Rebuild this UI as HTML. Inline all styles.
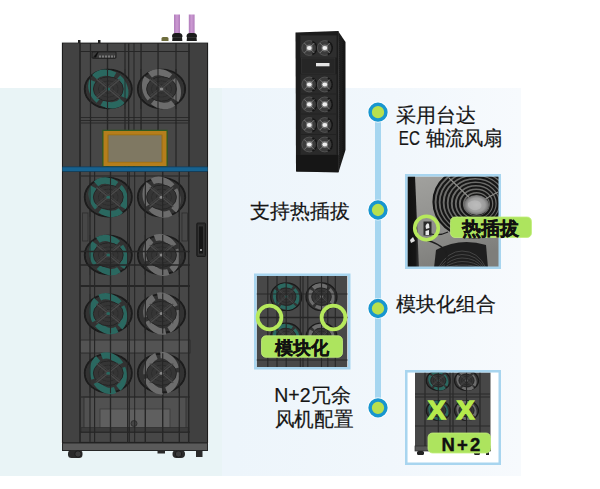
<!DOCTYPE html>
<html><head><meta charset="utf-8"><style>
html,body{margin:0;padding:0;background:#fff;width:600px;height:489px;overflow:hidden}
svg{display:block;font-family:"Liberation Sans",sans-serif}
</style></head><body>
<svg width="600" height="489" viewBox="0 0 600 489">
<defs><linearGradient id="bg" x1="0" y1="0" x2="1" y2="0"><stop offset="0" stop-color="#edf5fb"/><stop offset="0.45" stop-color="#edf5fb"/><stop offset="0.75" stop-color="#f1f7fc"/><stop offset="1" stop-color="#f7fafd"/></linearGradient></defs>
<rect x="0" y="88" width="521" height="388" fill="url(#bg)"/>
<rect x="0" y="88" width="222" height="388" fill="#e9f4f6"/>
<defs><filter id="soft" x="-5%" y="-5%" width="110%" height="110%"><feGaussianBlur stdDeviation="0.45"/></filter></defs>
<g filter="url(#soft)"><defs><linearGradient id="pp" x1="0" x2="1"><stop offset="0" stop-color="#b07cbb"/><stop offset="0.5" stop-color="#cc9ad2"/><stop offset="1" stop-color="#b07cbb"/></linearGradient></defs>
<rect x="174" y="14.5" width="6" height="19" fill="url(#pp)"/>
<rect x="188.8" y="14.5" width="5.8" height="19" fill="url(#pp)"/>
<path d="M172 36.5 Q172 33 175.5 33 L179 33 Q182.5 33 182.5 36.5 L182 37.5 L182.5 42.5 L172 42.5 L172.5 37.5 Z" fill="#1c1c1c"/><rect x="173" y="37" width="8.5" height="1" fill="#333"/>
<path d="M186.5 36.5 Q186.5 33 190 33 L193.5 33 Q197 33 197 36.5 L196.5 37.5 L197 42.5 L186.5 42.5 L187 37.5 Z" fill="#1c1c1c"/><rect x="187.5" y="37" width="8.5" height="1" fill="#333"/>
<rect x="161.5" y="37" width="7" height="6" rx="1.5" fill="#6e6d3e"/>
<rect x="61" y="41" width="148" height="403" fill="#fbfdfd"/>
<rect x="78" y="40" width="2.5" height="3" fill="#222"/><rect x="98" y="40" width="2.5" height="3" fill="#222"/>
<rect x="62.5" y="43.2" width="145" height="399.3" fill="#464646" stroke="#1e1e1e" stroke-width="1.2"/>
<rect x="190" y="43.5" width="17" height="399" fill="#404040"/>
<rect x="63.5" y="43.5" width="16" height="399" fill="#434343"/>
<rect x="84" y="397" width="102" height="34" fill="#515151" stroke="#2e2e2e" stroke-width="0.8"/>
<rect x="100" y="409" width="70" height="19" fill="#5e5e5e" stroke="#3a3a3a" stroke-width="0.8"/>
<circle cx="134" cy="423.5" r="3" fill="#444" stroke="#2a2a2a" stroke-width="0.8"/>
<rect x="81" y="427.5" width="108" height="5" fill="#3a3a3a" stroke="#2a2a2a" stroke-width="0.6"/>
<rect x="62.5" y="443" width="145" height="7.5" fill="#5a5a5a" stroke="#262626" stroke-width="1"/>
<rect x="68" y="450" width="14.5" height="8" rx="3.5" fill="#2a2a2a"/>
<circle cx="78" cy="454" r="3.2" fill="#3c3c3c" stroke="#1e1e1e" stroke-width="1"/>
<rect x="172.5" y="450" width="12.5" height="8" rx="4" fill="#2a2a2a"/>
<circle cx="178.5" cy="454" r="3.2" fill="#3c3c3c" stroke="#1e1e1e" stroke-width="1"/>
<rect x="196" y="450" width="6.5" height="7" fill="#2a2a2a"/>
<rect x="157.5" y="450" width="7.5" height="3.5" fill="#2a2a2a"/>
<rect x="80" y="340" width="110" height="13" fill="#535353" stroke="#2c2c2c" stroke-width="0.9"/>
<line x1="80" y1="43" x2="80" y2="167" stroke="#252525" stroke-width="1.5"/>
<line x1="90.5" y1="43" x2="90.5" y2="167" stroke="#252525" stroke-width="1.2"/>
<line x1="107.5" y1="43" x2="107.5" y2="167" stroke="#252525" stroke-width="1.3"/>
<line x1="125" y1="43" x2="125" y2="167" stroke="#252525" stroke-width="1.1"/>
<line x1="128.7" y1="43" x2="128.7" y2="167" stroke="#252525" stroke-width="1.3"/>
<line x1="134" y1="43" x2="134" y2="167" stroke="#252525" stroke-width="1.0"/>
<line x1="141" y1="43" x2="141" y2="167" stroke="#252525" stroke-width="1.3"/>
<line x1="158" y1="43" x2="158" y2="167" stroke="#252525" stroke-width="1.3"/>
<line x1="176" y1="43" x2="176" y2="167" stroke="#252525" stroke-width="1.2"/>
<line x1="189" y1="43" x2="189" y2="167" stroke="#252525" stroke-width="1.5"/>
<line x1="80" y1="171" x2="80" y2="443" stroke="#252525" stroke-width="1.5"/>
<line x1="90" y1="171" x2="90" y2="443" stroke="#252525" stroke-width="1.1"/>
<line x1="110.5" y1="171" x2="110.5" y2="443" stroke="#252525" stroke-width="1.3"/>
<line x1="127.5" y1="171" x2="127.5" y2="443" stroke="#252525" stroke-width="1.0"/>
<line x1="129.2" y1="171" x2="129.2" y2="443" stroke="#252525" stroke-width="1.3"/>
<line x1="134.7" y1="171" x2="134.7" y2="443" stroke="#252525" stroke-width="1.0"/>
<line x1="145.3" y1="171" x2="145.3" y2="443" stroke="#252525" stroke-width="1.4"/>
<line x1="162.7" y1="171" x2="162.7" y2="443" stroke="#252525" stroke-width="1.4"/>
<line x1="179.3" y1="171" x2="179.3" y2="443" stroke="#252525" stroke-width="1.2"/>
<line x1="188.7" y1="171" x2="188.7" y2="443" stroke="#252525" stroke-width="1.5"/>
<line x1="94.6" y1="171" x2="94.6" y2="443" stroke="#252525" stroke-width="1.1"/>
<line x1="80" y1="51.5" x2="190" y2="51.5" stroke="#262626" stroke-width="1"/>
<line x1="80" y1="117.5" x2="190" y2="117.5" stroke="#262626" stroke-width="0.9"/>
<line x1="80" y1="120.5" x2="190" y2="120.5" stroke="#262626" stroke-width="0.9"/>
<line x1="80" y1="123" x2="190" y2="123" stroke="#262626" stroke-width="0.9"/>
<line x1="80" y1="176" x2="190" y2="176" stroke="#262626" stroke-width="1.2"/>
<line x1="80" y1="286" x2="190" y2="286" stroke="#262626" stroke-width="1.8"/>
<line x1="80" y1="397" x2="190" y2="397" stroke="#262626" stroke-width="1"/>
<line x1="80" y1="432" x2="190" y2="432" stroke="#262626" stroke-width="1"/>
<rect x="92" y="51.8" width="24" height="6.5" rx="1" fill="#3c3c3c" stroke="#1c1c1c" stroke-width="0.9"/>
<path d="M93 57.5 L97.5 52 L98.5 52 L96 57.5 Z" fill="#111"/>
<path d="M99 56.5 h16" stroke="#7a7a7a" stroke-width="2" stroke-dasharray="2 1"/>
<ellipse cx="108.3" cy="89" rx="23.6" ry="19.3" fill="#333" stroke="#1a1a1a" stroke-width="1.77"/>
<ellipse cx="108.3" cy="89" rx="18.2" ry="14.9" fill="none" stroke="#2b6860" stroke-width="6.4" stroke-dasharray="21.8 4.2" transform="rotate(40 108.3 89)"/>
<ellipse cx="108.3" cy="89" rx="14.9" ry="12.2" fill="#363636" stroke="#262626" stroke-width="1"/>
<ellipse cx="108.3" cy="89" rx="9.9" ry="8.1" fill="none" stroke="#2a2a2a" stroke-width="0.8"/>
<ellipse cx="108.3" cy="89" rx="5.2" ry="4.2" fill="none" stroke="#2a2a2a" stroke-width="0.8"/>
<path d="M96.5 79.3L120.1 98.7M120.1 79.3L96.5 98.7" stroke="#4a4a4a" stroke-width="1.18"/>
<path d="M98.9 78.9L120.7 96.7M117.7 78.9L95.9 96.7" stroke="#424242" stroke-width="0.94"/>
<ellipse cx="108.3" cy="89" rx="1.9" ry="1.5" fill="#2b6860"/>
<ellipse cx="161.5" cy="89" rx="23.7" ry="19.3" fill="#333" stroke="#1a1a1a" stroke-width="1.78"/>
<ellipse cx="161.5" cy="89" rx="18.2" ry="14.9" fill="none" stroke="#6c6c6c" stroke-width="6.4" stroke-dasharray="21.8 4.2" transform="rotate(50 161.5 89)"/>
<ellipse cx="161.5" cy="89" rx="14.9" ry="12.2" fill="#363636" stroke="#262626" stroke-width="1"/>
<ellipse cx="161.5" cy="89" rx="10.0" ry="8.1" fill="none" stroke="#2a2a2a" stroke-width="0.8"/>
<ellipse cx="161.5" cy="89" rx="5.2" ry="4.2" fill="none" stroke="#2a2a2a" stroke-width="0.8"/>
<path d="M149.7 79.3L173.3 98.7M173.3 79.3L149.7 98.7" stroke="#4a4a4a" stroke-width="1.19"/>
<path d="M152.0 78.9L173.9 96.7M171.0 78.9L149.1 96.7" stroke="#424242" stroke-width="0.95"/>
<ellipse cx="161.5" cy="89" rx="1.9" ry="1.5" fill="#888"/>
<ellipse cx="108.3" cy="197.2" rx="23.6" ry="19.3" fill="#333" stroke="#1a1a1a" stroke-width="1.77"/>
<ellipse cx="108.3" cy="197.2" rx="18.2" ry="14.9" fill="none" stroke="#2b6860" stroke-width="6.4" stroke-dasharray="21.8 4.2" transform="rotate(47 108.3 197.2)"/>
<ellipse cx="108.3" cy="197.2" rx="14.9" ry="12.2" fill="#363636" stroke="#262626" stroke-width="1"/>
<ellipse cx="108.3" cy="197.2" rx="9.9" ry="8.1" fill="none" stroke="#2a2a2a" stroke-width="0.8"/>
<ellipse cx="108.3" cy="197.2" rx="5.2" ry="4.2" fill="none" stroke="#2a2a2a" stroke-width="0.8"/>
<path d="M96.5 187.5L120.1 206.8M120.1 187.5L96.5 206.8" stroke="#4a4a4a" stroke-width="1.18"/>
<path d="M98.9 187.1L120.7 204.9M117.7 187.1L95.9 204.9" stroke="#424242" stroke-width="0.94"/>
<ellipse cx="108.3" cy="197.2" rx="1.9" ry="1.5" fill="#2b6860"/>
<ellipse cx="161.5" cy="197.2" rx="23.7" ry="19.3" fill="#333" stroke="#1a1a1a" stroke-width="1.78"/>
<ellipse cx="161.5" cy="197.2" rx="18.2" ry="14.9" fill="none" stroke="#6c6c6c" stroke-width="6.4" stroke-dasharray="21.8 4.2" transform="rotate(59 161.5 197.2)"/>
<ellipse cx="161.5" cy="197.2" rx="14.9" ry="12.2" fill="#363636" stroke="#262626" stroke-width="1"/>
<ellipse cx="161.5" cy="197.2" rx="10.0" ry="8.1" fill="none" stroke="#2a2a2a" stroke-width="0.8"/>
<ellipse cx="161.5" cy="197.2" rx="5.2" ry="4.2" fill="none" stroke="#2a2a2a" stroke-width="0.8"/>
<path d="M149.7 187.5L173.3 206.8M173.3 187.5L149.7 206.8" stroke="#4a4a4a" stroke-width="1.19"/>
<path d="M152.0 187.1L173.9 204.9M171.0 187.1L149.1 204.9" stroke="#424242" stroke-width="0.95"/>
<ellipse cx="161.5" cy="197.2" rx="1.9" ry="1.5" fill="#888"/>
<ellipse cx="108.3" cy="255" rx="23.6" ry="19.3" fill="#333" stroke="#1a1a1a" stroke-width="1.77"/>
<ellipse cx="108.3" cy="255" rx="18.2" ry="14.9" fill="none" stroke="#2b6860" stroke-width="6.4" stroke-dasharray="21.8 4.2" transform="rotate(54 108.3 255)"/>
<ellipse cx="108.3" cy="255" rx="14.9" ry="12.2" fill="#363636" stroke="#262626" stroke-width="1"/>
<ellipse cx="108.3" cy="255" rx="9.9" ry="8.1" fill="none" stroke="#2a2a2a" stroke-width="0.8"/>
<ellipse cx="108.3" cy="255" rx="5.2" ry="4.2" fill="none" stroke="#2a2a2a" stroke-width="0.8"/>
<path d="M96.5 245.3L120.1 264.6M120.1 245.3L96.5 264.6" stroke="#4a4a4a" stroke-width="1.18"/>
<path d="M98.9 244.9L120.7 262.7M117.7 244.9L95.9 262.7" stroke="#424242" stroke-width="0.94"/>
<ellipse cx="108.3" cy="255" rx="1.9" ry="1.5" fill="#2b6860"/>
<ellipse cx="161.5" cy="255" rx="23.7" ry="19.3" fill="#333" stroke="#1a1a1a" stroke-width="1.78"/>
<ellipse cx="161.5" cy="255" rx="18.2" ry="14.9" fill="none" stroke="#6c6c6c" stroke-width="6.4" stroke-dasharray="21.8 4.2" transform="rotate(68 161.5 255)"/>
<ellipse cx="161.5" cy="255" rx="14.9" ry="12.2" fill="#363636" stroke="#262626" stroke-width="1"/>
<ellipse cx="161.5" cy="255" rx="10.0" ry="8.1" fill="none" stroke="#2a2a2a" stroke-width="0.8"/>
<ellipse cx="161.5" cy="255" rx="5.2" ry="4.2" fill="none" stroke="#2a2a2a" stroke-width="0.8"/>
<path d="M149.7 245.3L173.3 264.6M173.3 245.3L149.7 264.6" stroke="#4a4a4a" stroke-width="1.19"/>
<path d="M152.0 244.9L173.9 262.7M171.0 244.9L149.1 262.7" stroke="#424242" stroke-width="0.95"/>
<ellipse cx="161.5" cy="255" rx="1.9" ry="1.5" fill="#888"/>
<ellipse cx="108.3" cy="313.6" rx="23.6" ry="19.3" fill="#333" stroke="#1a1a1a" stroke-width="1.77"/>
<ellipse cx="108.3" cy="313.6" rx="18.2" ry="14.9" fill="none" stroke="#2b6860" stroke-width="6.4" stroke-dasharray="21.8 4.2" transform="rotate(61 108.3 313.6)"/>
<ellipse cx="108.3" cy="313.6" rx="14.9" ry="12.2" fill="#363636" stroke="#262626" stroke-width="1"/>
<ellipse cx="108.3" cy="313.6" rx="9.9" ry="8.1" fill="none" stroke="#2a2a2a" stroke-width="0.8"/>
<ellipse cx="108.3" cy="313.6" rx="5.2" ry="4.2" fill="none" stroke="#2a2a2a" stroke-width="0.8"/>
<path d="M96.5 304.0L120.1 323.2M120.1 304.0L96.5 323.2" stroke="#4a4a4a" stroke-width="1.18"/>
<path d="M98.9 303.5L120.7 321.3M117.7 303.5L95.9 321.3" stroke="#424242" stroke-width="0.94"/>
<ellipse cx="108.3" cy="313.6" rx="1.9" ry="1.5" fill="#2b6860"/>
<ellipse cx="161.5" cy="313.6" rx="23.7" ry="19.3" fill="#333" stroke="#1a1a1a" stroke-width="1.78"/>
<ellipse cx="161.5" cy="313.6" rx="18.2" ry="14.9" fill="none" stroke="#6c6c6c" stroke-width="6.4" stroke-dasharray="21.8 4.2" transform="rotate(77 161.5 313.6)"/>
<ellipse cx="161.5" cy="313.6" rx="14.9" ry="12.2" fill="#363636" stroke="#262626" stroke-width="1"/>
<ellipse cx="161.5" cy="313.6" rx="10.0" ry="8.1" fill="none" stroke="#2a2a2a" stroke-width="0.8"/>
<ellipse cx="161.5" cy="313.6" rx="5.2" ry="4.2" fill="none" stroke="#2a2a2a" stroke-width="0.8"/>
<path d="M149.7 304.0L173.3 323.2M173.3 304.0L149.7 323.2" stroke="#4a4a4a" stroke-width="1.19"/>
<path d="M152.0 303.5L173.9 321.3M171.0 303.5L149.1 321.3" stroke="#424242" stroke-width="0.95"/>
<ellipse cx="161.5" cy="313.6" rx="1.9" ry="1.5" fill="#888"/>
<ellipse cx="108.3" cy="373.2" rx="23.6" ry="19.3" fill="#333" stroke="#1a1a1a" stroke-width="1.77"/>
<ellipse cx="108.3" cy="373.2" rx="18.2" ry="14.9" fill="none" stroke="#2b6860" stroke-width="6.4" stroke-dasharray="21.8 4.2" transform="rotate(68 108.3 373.2)"/>
<ellipse cx="108.3" cy="373.2" rx="14.9" ry="12.2" fill="#363636" stroke="#262626" stroke-width="1"/>
<ellipse cx="108.3" cy="373.2" rx="9.9" ry="8.1" fill="none" stroke="#2a2a2a" stroke-width="0.8"/>
<ellipse cx="108.3" cy="373.2" rx="5.2" ry="4.2" fill="none" stroke="#2a2a2a" stroke-width="0.8"/>
<path d="M96.5 363.6L120.1 382.8M120.1 363.6L96.5 382.8" stroke="#4a4a4a" stroke-width="1.18"/>
<path d="M98.9 363.1L120.7 380.9M117.7 363.1L95.9 380.9" stroke="#424242" stroke-width="0.94"/>
<ellipse cx="108.3" cy="373.2" rx="1.9" ry="1.5" fill="#2b6860"/>
<ellipse cx="161.5" cy="373.2" rx="23.7" ry="19.3" fill="#333" stroke="#1a1a1a" stroke-width="1.78"/>
<ellipse cx="161.5" cy="373.2" rx="18.2" ry="14.9" fill="none" stroke="#6c6c6c" stroke-width="6.4" stroke-dasharray="21.8 4.2" transform="rotate(86 161.5 373.2)"/>
<ellipse cx="161.5" cy="373.2" rx="14.9" ry="12.2" fill="#363636" stroke="#262626" stroke-width="1"/>
<ellipse cx="161.5" cy="373.2" rx="10.0" ry="8.1" fill="none" stroke="#2a2a2a" stroke-width="0.8"/>
<ellipse cx="161.5" cy="373.2" rx="5.2" ry="4.2" fill="none" stroke="#2a2a2a" stroke-width="0.8"/>
<path d="M149.7 363.6L173.3 382.8M173.3 363.6L149.7 382.8" stroke="#4a4a4a" stroke-width="1.19"/>
<path d="M152.0 363.1L173.9 380.9M171.0 363.1L149.1 380.9" stroke="#424242" stroke-width="0.95"/>
<ellipse cx="161.5" cy="373.2" rx="1.9" ry="1.5" fill="#888"/>
<line x1="90.5" y1="69" x2="90.5" y2="109" stroke="#262626" stroke-width="1.02"/>
<line x1="107.5" y1="69" x2="107.5" y2="109" stroke="#262626" stroke-width="1.10"/>
<line x1="125" y1="69" x2="125" y2="109" stroke="#262626" stroke-width="0.94"/>
<line x1="141" y1="69" x2="141" y2="109" stroke="#262626" stroke-width="1.10"/>
<line x1="158" y1="69" x2="158" y2="109" stroke="#262626" stroke-width="1.10"/>
<line x1="176" y1="69" x2="176" y2="109" stroke="#262626" stroke-width="1.02"/>
<line x1="90" y1="177.2" x2="90" y2="217.2" stroke="#262626" stroke-width="0.94"/>
<line x1="110.5" y1="177.2" x2="110.5" y2="217.2" stroke="#262626" stroke-width="1.10"/>
<line x1="127.5" y1="177.2" x2="127.5" y2="217.2" stroke="#262626" stroke-width="0.85"/>
<line x1="145.3" y1="177.2" x2="145.3" y2="217.2" stroke="#262626" stroke-width="1.19"/>
<line x1="162.7" y1="177.2" x2="162.7" y2="217.2" stroke="#262626" stroke-width="1.19"/>
<line x1="179.3" y1="177.2" x2="179.3" y2="217.2" stroke="#262626" stroke-width="1.02"/>
<line x1="90" y1="235" x2="90" y2="275" stroke="#262626" stroke-width="0.94"/>
<line x1="110.5" y1="235" x2="110.5" y2="275" stroke="#262626" stroke-width="1.10"/>
<line x1="127.5" y1="235" x2="127.5" y2="275" stroke="#262626" stroke-width="0.85"/>
<line x1="145.3" y1="235" x2="145.3" y2="275" stroke="#262626" stroke-width="1.19"/>
<line x1="162.7" y1="235" x2="162.7" y2="275" stroke="#262626" stroke-width="1.19"/>
<line x1="179.3" y1="235" x2="179.3" y2="275" stroke="#262626" stroke-width="1.02"/>
<line x1="90" y1="293.6" x2="90" y2="333.6" stroke="#262626" stroke-width="0.94"/>
<line x1="110.5" y1="293.6" x2="110.5" y2="333.6" stroke="#262626" stroke-width="1.10"/>
<line x1="127.5" y1="293.6" x2="127.5" y2="333.6" stroke="#262626" stroke-width="0.85"/>
<line x1="145.3" y1="293.6" x2="145.3" y2="333.6" stroke="#262626" stroke-width="1.19"/>
<line x1="162.7" y1="293.6" x2="162.7" y2="333.6" stroke="#262626" stroke-width="1.19"/>
<line x1="179.3" y1="293.6" x2="179.3" y2="333.6" stroke="#262626" stroke-width="1.02"/>
<line x1="90" y1="353.2" x2="90" y2="393.2" stroke="#262626" stroke-width="0.94"/>
<line x1="110.5" y1="353.2" x2="110.5" y2="393.2" stroke="#262626" stroke-width="1.10"/>
<line x1="127.5" y1="353.2" x2="127.5" y2="393.2" stroke="#262626" stroke-width="0.85"/>
<line x1="145.3" y1="353.2" x2="145.3" y2="393.2" stroke="#262626" stroke-width="1.19"/>
<line x1="162.7" y1="353.2" x2="162.7" y2="393.2" stroke="#262626" stroke-width="1.19"/>
<line x1="179.3" y1="353.2" x2="179.3" y2="393.2" stroke="#262626" stroke-width="1.02"/>
<line x1="80" y1="251.5" x2="190" y2="251.5" stroke="#262626" stroke-width="1.3"/>
<line x1="80" y1="265" x2="190" y2="265" stroke="#262626" stroke-width="1.3"/>
<rect x="102.3" y="129.8" width="65.4" height="37" fill="#2f5c22"/>
<rect x="103.5" y="131" width="63" height="35" fill="#b57e1c"/><rect x="107.5" y="134.5" width="55" height="28" fill="#9a6c14"/>
<rect x="108.5" y="135.3" width="53" height="26.5" fill="#7f7862"/>
<rect x="62.5" y="166.5" width="145" height="5.3" fill="#0f3f60"/><rect x="62.5" y="167.3" width="145" height="3.7" fill="#16628f"/>
<rect x="82.5" y="213" width="5.5" height="28" fill="none" stroke="#2e2e2e" stroke-width="0.8"/>
<rect x="182" y="213" width="5.5" height="28" fill="none" stroke="#2e2e2e" stroke-width="0.8"/>
<rect x="196.8" y="223" width="8.8" height="33.5" rx="1" fill="#2a2a2a" stroke="#1a1a1a" stroke-width="1"/>
<rect x="198.6" y="226" width="4.8" height="28" fill="#141414" stroke="#3c3c3c" stroke-width="0.7"/>
<circle cx="201" cy="250" r="1" fill="#bbb"/></g>
<g filter="url(#soft)"><defs><linearGradient id="sg" x1="0" y1="0" x2="1" y2="0"><stop offset="0" stop-color="#222"/><stop offset="1" stop-color="#141414"/></linearGradient></defs>
<path d="M338 31 L345.5 42 L345.5 150 L338.5 172.5 Z" fill="url(#sg)"/>
<path d="M295.5 32.5 L338 31 L338.5 172.5 L296 171.5 Z" fill="#1b1b1b"/>
<line x1="338.3" y1="31" x2="338.5" y2="172" stroke="#333" stroke-width="0.8"/>
<rect x="300.5" y="35.5" width="36" height="22" fill="#2e2e2e" stroke="#262626" stroke-width="0.8"/>
<rect x="301.5" y="58" width="33.5" height="15.5" fill="#262626" stroke="#353535" stroke-width="0.7"/>
<rect x="316" y="63" width="13.5" height="3.3" fill="#e4e4e4"/>
<rect x="300.5" y="74" width="36" height="20" fill="#2b2b2b" stroke="#232323" stroke-width="0.7"/>
<rect x="300.5" y="94" width="36" height="20" fill="#2a2a2a" stroke="#232323" stroke-width="0.7"/>
<rect x="300.5" y="114" width="36" height="20.5" fill="#2a2a2a" stroke="#232323" stroke-width="0.7"/>
<rect x="300.5" y="134.5" width="36" height="20.5" fill="#2a2a2a" stroke="#232323" stroke-width="0.7"/>
<rect x="296.5" y="155" width="42" height="16.5" fill="#151515" />
<circle cx="309.3" cy="48" r="7.4" fill="#3a3a3a" stroke="#555" stroke-width="0.9"/>
<path d="M312.3 41.5 A7 7 0 0 1 312.3 54.5" fill="none" stroke="#151515" stroke-width="1.6"/>
<path d="M304.3 43L314.3 53M314.3 43L304.3 53" stroke="#858585" stroke-width="0.8"/>
<circle cx="309.3" cy="48" r="3.4" fill="#a0a0a0" opacity="0.55"/>
<ellipse cx="309.3" cy="48" rx="2.4" ry="2.1" fill="#f0f0f0"/>
<circle cx="324.8" cy="48" r="7.4" fill="#3a3a3a" stroke="#555" stroke-width="0.9"/>
<path d="M327.8 41.5 A7 7 0 0 1 327.8 54.5" fill="none" stroke="#151515" stroke-width="1.6"/>
<path d="M319.8 43L329.8 53M329.8 43L319.8 53" stroke="#858585" stroke-width="0.8"/>
<circle cx="324.8" cy="48" r="3.4" fill="#a0a0a0" opacity="0.55"/>
<ellipse cx="324.8" cy="48" rx="2.4" ry="2.1" fill="#f0f0f0"/>
<circle cx="309.3" cy="84.5" r="7.4" fill="#3a3a3a" stroke="#555" stroke-width="0.9"/>
<path d="M312.3 78.0 A7 7 0 0 1 312.3 91.0" fill="none" stroke="#151515" stroke-width="1.6"/>
<path d="M304.3 79.5L314.3 89.5M314.3 79.5L304.3 89.5" stroke="#858585" stroke-width="0.8"/>
<circle cx="309.3" cy="84.5" r="3.4" fill="#a0a0a0" opacity="0.55"/>
<ellipse cx="309.3" cy="84.5" rx="2.4" ry="2.1" fill="#f0f0f0"/>
<circle cx="324.8" cy="84.5" r="7.4" fill="#3a3a3a" stroke="#555" stroke-width="0.9"/>
<path d="M327.8 78.0 A7 7 0 0 1 327.8 91.0" fill="none" stroke="#151515" stroke-width="1.6"/>
<path d="M319.8 79.5L329.8 89.5M329.8 79.5L319.8 89.5" stroke="#858585" stroke-width="0.8"/>
<circle cx="324.8" cy="84.5" r="3.4" fill="#a0a0a0" opacity="0.55"/>
<ellipse cx="324.8" cy="84.5" rx="2.4" ry="2.1" fill="#f0f0f0"/>
<circle cx="309.3" cy="104.4" r="7.4" fill="#3a3a3a" stroke="#555" stroke-width="0.9"/>
<path d="M312.3 97.9 A7 7 0 0 1 312.3 110.9" fill="none" stroke="#151515" stroke-width="1.6"/>
<path d="M304.3 99.4L314.3 109.4M314.3 99.4L304.3 109.4" stroke="#858585" stroke-width="0.8"/>
<circle cx="309.3" cy="104.4" r="3.4" fill="#a0a0a0" opacity="0.55"/>
<ellipse cx="309.3" cy="104.4" rx="2.4" ry="2.1" fill="#f0f0f0"/>
<circle cx="324.8" cy="104.4" r="7.4" fill="#3a3a3a" stroke="#555" stroke-width="0.9"/>
<path d="M327.8 97.9 A7 7 0 0 1 327.8 110.9" fill="none" stroke="#151515" stroke-width="1.6"/>
<path d="M319.8 99.4L329.8 109.4M329.8 99.4L319.8 109.4" stroke="#858585" stroke-width="0.8"/>
<circle cx="324.8" cy="104.4" r="3.4" fill="#a0a0a0" opacity="0.55"/>
<ellipse cx="324.8" cy="104.4" rx="2.4" ry="2.1" fill="#f0f0f0"/>
<circle cx="309.3" cy="125" r="7.4" fill="#3a3a3a" stroke="#555" stroke-width="0.9"/>
<path d="M312.3 118.5 A7 7 0 0 1 312.3 131.5" fill="none" stroke="#151515" stroke-width="1.6"/>
<path d="M304.3 120L314.3 130M314.3 120L304.3 130" stroke="#858585" stroke-width="0.8"/>
<circle cx="309.3" cy="125" r="3.4" fill="#a0a0a0" opacity="0.55"/>
<ellipse cx="309.3" cy="125" rx="2.4" ry="2.1" fill="#f0f0f0"/>
<circle cx="324.8" cy="125" r="7.4" fill="#3a3a3a" stroke="#555" stroke-width="0.9"/>
<path d="M327.8 118.5 A7 7 0 0 1 327.8 131.5" fill="none" stroke="#151515" stroke-width="1.6"/>
<path d="M319.8 120L329.8 130M329.8 120L319.8 130" stroke="#858585" stroke-width="0.8"/>
<circle cx="324.8" cy="125" r="3.4" fill="#a0a0a0" opacity="0.55"/>
<ellipse cx="324.8" cy="125" rx="2.4" ry="2.1" fill="#f0f0f0"/>
<circle cx="309.3" cy="144.5" r="7.4" fill="#3a3a3a" stroke="#555" stroke-width="0.9"/>
<path d="M312.3 138.0 A7 7 0 0 1 312.3 151.0" fill="none" stroke="#151515" stroke-width="1.6"/>
<path d="M304.3 139.5L314.3 149.5M314.3 139.5L304.3 149.5" stroke="#858585" stroke-width="0.8"/>
<circle cx="309.3" cy="144.5" r="3.4" fill="#a0a0a0" opacity="0.55"/>
<ellipse cx="309.3" cy="144.5" rx="2.4" ry="2.1" fill="#f0f0f0"/>
<circle cx="324.8" cy="144.5" r="7.4" fill="#3a3a3a" stroke="#555" stroke-width="0.9"/>
<path d="M327.8 138.0 A7 7 0 0 1 327.8 151.0" fill="none" stroke="#151515" stroke-width="1.6"/>
<path d="M319.8 139.5L329.8 149.5M329.8 139.5L319.8 149.5" stroke="#858585" stroke-width="0.8"/>
<circle cx="324.8" cy="144.5" r="3.4" fill="#a0a0a0" opacity="0.55"/>
<ellipse cx="324.8" cy="144.5" rx="2.4" ry="2.1" fill="#f0f0f0"/></g>
<rect x="375" y="112" width="6" height="296" fill="#a6d6f0"/>
<circle cx="378" cy="112.2" r="10.6" fill="#fff" opacity="0.75"/><circle cx="378" cy="112.2" r="7.9" fill="#b8e04e" stroke="#1896cf" stroke-width="3.5"/>
<circle cx="378" cy="210" r="10.6" fill="#fff" opacity="0.75"/><circle cx="378" cy="210" r="7.9" fill="#b8e04e" stroke="#1896cf" stroke-width="3.5"/>
<circle cx="378" cy="308.5" r="10.6" fill="#fff" opacity="0.75"/><circle cx="378" cy="308.5" r="7.9" fill="#b8e04e" stroke="#1896cf" stroke-width="3.5"/>
<circle cx="378" cy="407.8" r="10.6" fill="#fff" opacity="0.75"/><circle cx="378" cy="407.8" r="7.9" fill="#b8e04e" stroke="#1896cf" stroke-width="3.5"/>
<text x="396" y="122" font-size="19.5" fill="#151515" stroke="#151515" stroke-width="0.2">采用台达</text>
<text x="398.8" y="144.5" font-size="19.5" fill="#151515" stroke="#151515" stroke-width="0.2" textLength="21" lengthAdjust="spacingAndGlyphs">EC</text>
<text x="425.5" y="144.5" font-size="19.5" fill="#151515" stroke="#151515" stroke-width="0.2" textLength="77" lengthAdjust="spacingAndGlyphs">轴流风扇</text>
<text x="250.3" y="217.6" font-size="19.5" fill="#151515" stroke="#151515" stroke-width="0.2">支持热插拔</text>
<text x="396.3" y="310.6" font-size="19.5" fill="#151515" stroke="#151515" stroke-width="0.2">模块化组合</text>
<text x="274.2" y="401.5" font-size="19.5" fill="#151515" stroke="#151515" stroke-width="0.2">N+2冗余</text>
<text x="274.8" y="425.5" font-size="19.5" fill="#151515" stroke="#151515" stroke-width="0.2" textLength="78.5" lengthAdjust="spacingAndGlyphs">风机配置</text>
<defs><clipPath id="c1"><rect x="407.5" y="176.5" width="92" height="91"/></clipPath><linearGradient id="g1" x1="0" y1="0" x2="0.3" y2="1"><stop offset="0" stop-color="#a2a29f"/><stop offset="0.6" stop-color="#8f8f8c"/><stop offset="1" stop-color="#7e7e7b"/></linearGradient><radialGradient id="hubg"><stop offset="0" stop-color="#b4b4b4"/><stop offset="0.7" stop-color="#9c9c9c"/><stop offset="1" stop-color="#6a6a6a"/></radialGradient><linearGradient id="bs" x1="0" x2="1"><stop offset="0" stop-color="#101010"/><stop offset="0.7" stop-color="#161616"/><stop offset="1" stop-color="#3a3a3a"/></linearGradient></defs>
<g clip-path="url(#c1)">
<rect x="407" y="176" width="93" height="92" fill="url(#g1)"/>
<path d="M407 176 L415 176 L419 268 L407 268 Z" fill="url(#bs)"/>
<ellipse cx="474" cy="202" rx="41" ry="36" fill="#6c6c6a"/>
<ellipse cx="474.0" cy="202.0" rx="40.5" ry="35.5" fill="none" stroke="#161616" stroke-width="2.2"/>
<ellipse cx="474.4" cy="202.3" rx="36.8" ry="32.3" fill="none" stroke="#161616" stroke-width="2.2"/>
<ellipse cx="474.7" cy="202.6" rx="33.1" ry="29.1" fill="none" stroke="#161616" stroke-width="2.2"/>
<ellipse cx="475.1" cy="202.9" rx="29.4" ry="25.9" fill="none" stroke="#161616" stroke-width="2.2"/>
<ellipse cx="475.4" cy="203.2" rx="25.7" ry="22.7" fill="none" stroke="#161616" stroke-width="2.2"/>
<ellipse cx="475.8" cy="203.5" rx="22.0" ry="19.5" fill="none" stroke="#161616" stroke-width="2.2"/>
<ellipse cx="476.1" cy="203.8" rx="18.3" ry="16.3" fill="none" stroke="#161616" stroke-width="2.2"/>
<ellipse cx="476.4" cy="204.1" rx="14.6" ry="13.1" fill="none" stroke="#161616" stroke-width="2.2"/>
<ellipse cx="476.8" cy="204.4" rx="10.9" ry="9.9" fill="none" stroke="#161616" stroke-width="2.2"/>
<ellipse cx="477.1" cy="204.7" rx="7.2" ry="6.7" fill="none" stroke="#161616" stroke-width="2.2"/>
<path d="M449 178 L476 204 M498 192 L476 204" stroke="#8e8e8a" stroke-width="1.1"/>
<ellipse cx="476.5" cy="205" rx="12.5" ry="10" fill="url(#hubg)"/>
<path d="M468 203 Q474 198 480 202 Q484 208 477 210 Q471 211 468 206 Z" fill="#c4c4c4" opacity="0.5"/>
<path d="M434 268 L436 250 Q460 237 486 245 L488 268 Z" fill="#1f1f1f"/>
<path d="M438.0 268 Q448 251.0 462 251.0 Q478 251.0 486.0 268" fill="none" stroke="#4a4a4a" stroke-width="0.9"/>
<path d="M439.5 268 Q450 254.5 462 254.5 Q477 254.5 484.5 268" fill="none" stroke="#4a4a4a" stroke-width="0.9"/>
<path d="M441.0 268 Q452 258.0 462 258.0 Q476 258.0 483.0 268" fill="none" stroke="#4a4a4a" stroke-width="0.9"/>
<path d="M442.5 268 Q454 261.5 462 261.5 Q475 261.5 481.5 268" fill="none" stroke="#4a4a4a" stroke-width="0.9"/>
<path d="M444.0 268 Q456 265.0 462 265.0 Q474 265.0 480.0 268" fill="none" stroke="#4a4a4a" stroke-width="0.9"/>
<path d="M426 240 Q438 243 445 250 Q449 256 445 268" fill="none" stroke="#1e1e1e" stroke-width="1.4"/>
<path d="M431 234 Q440 236 448 232" fill="none" stroke="#1e1e1e" stroke-width="1.2"/>
<rect x="423.5" y="221.5" width="8" height="14" fill="#2a2a2a"/>
<path d="M425.5 226 Q427 222 429 224 L429.5 228 L426 229 Z M425.5 231 L429 230 L429 235 L425.5 235 Z" fill="#e8e8e8"/>
<path d="M410 240 L413 237 L415 241 L411 243 Z" fill="#e0e0e0"/>
</g>
<rect x="406.25" y="175.25" width="93.5" height="92.5" fill="none" stroke="#a8d5ef" stroke-width="2.5"/>
<circle cx="426.5" cy="228" r="11.8" fill="none" stroke="#b6e95c" stroke-width="3.6"/>
<rect x="450.5" y="217" width="81" height="20.5" rx="4.5" fill="#ade45e" stroke="#c2ee7c" stroke-width="0.8"/>
<text x="490.5" y="234.5" text-anchor="middle" font-size="18.5" font-weight="bold" fill="#111" stroke="#111" stroke-width="0.35">热插拔</text>
<defs><clipPath id="c2"><rect x="256.5" y="276" width="91" height="91"/></clipPath></defs>
<g clip-path="url(#c2)">
<rect x="256.5" y="276" width="91" height="91" fill="#484848"/>
<ellipse cx="286.2" cy="296.7" rx="15.5" ry="13.8" fill="#333" stroke="#1a1a1a" stroke-width="1.20"/>
<ellipse cx="286.2" cy="296.7" rx="11.9" ry="10.6" fill="none" stroke="#2b6860" stroke-width="4.2" stroke-dasharray="14.9 2.8" transform="rotate(45 286.2 296.7)"/>
<ellipse cx="286.2" cy="296.7" rx="9.8" ry="8.7" fill="#363636" stroke="#262626" stroke-width="1"/>
<ellipse cx="286.2" cy="296.7" rx="6.5" ry="5.8" fill="none" stroke="#2a2a2a" stroke-width="0.8"/>
<ellipse cx="286.2" cy="296.7" rx="3.4" ry="3.0" fill="none" stroke="#2a2a2a" stroke-width="0.8"/>
<path d="M278.4 289.8L293.9 303.6M293.9 289.8L278.4 303.6" stroke="#4a4a4a" stroke-width="0.80"/>
<path d="M280.0 289.5L294.3 302.2M292.4 289.5L278.1 302.2" stroke="#424242" stroke-width="0.62"/>
<ellipse cx="286.2" cy="296.7" rx="1.2" ry="1.1" fill="#2b6860"/>
<ellipse cx="321.5" cy="296.7" rx="15.5" ry="13.8" fill="#333" stroke="#1a1a1a" stroke-width="1.20"/>
<ellipse cx="321.5" cy="296.7" rx="11.9" ry="10.6" fill="none" stroke="#6c6c6c" stroke-width="4.2" stroke-dasharray="14.9 2.8" transform="rotate(45 321.5 296.7)"/>
<ellipse cx="321.5" cy="296.7" rx="9.8" ry="8.7" fill="#363636" stroke="#262626" stroke-width="1"/>
<ellipse cx="321.5" cy="296.7" rx="6.5" ry="5.8" fill="none" stroke="#2a2a2a" stroke-width="0.8"/>
<ellipse cx="321.5" cy="296.7" rx="3.4" ry="3.0" fill="none" stroke="#2a2a2a" stroke-width="0.8"/>
<path d="M313.8 289.8L329.2 303.6M329.2 289.8L313.8 303.6" stroke="#4a4a4a" stroke-width="0.80"/>
<path d="M315.3 289.5L329.6 302.2M327.7 289.5L313.4 302.2" stroke="#424242" stroke-width="0.62"/>
<ellipse cx="321.5" cy="296.7" rx="1.2" ry="1.1" fill="#888"/>
<ellipse cx="286.2" cy="337" rx="15.5" ry="13.8" fill="#333" stroke="#1a1a1a" stroke-width="1.20"/>
<ellipse cx="286.2" cy="337" rx="11.9" ry="10.6" fill="none" stroke="#2b6860" stroke-width="4.2" stroke-dasharray="14.9 2.8" transform="rotate(45 286.2 337)"/>
<ellipse cx="286.2" cy="337" rx="9.8" ry="8.7" fill="#363636" stroke="#262626" stroke-width="1"/>
<ellipse cx="286.2" cy="337" rx="6.5" ry="5.8" fill="none" stroke="#2a2a2a" stroke-width="0.8"/>
<ellipse cx="286.2" cy="337" rx="3.4" ry="3.0" fill="none" stroke="#2a2a2a" stroke-width="0.8"/>
<path d="M278.4 330.1L293.9 343.9M293.9 330.1L278.4 343.9" stroke="#4a4a4a" stroke-width="0.80"/>
<path d="M280.0 329.8L294.3 342.5M292.4 329.8L278.1 342.5" stroke="#424242" stroke-width="0.62"/>
<ellipse cx="286.2" cy="337" rx="1.2" ry="1.1" fill="#2b6860"/>
<ellipse cx="321.5" cy="337" rx="15.5" ry="13.8" fill="#333" stroke="#1a1a1a" stroke-width="1.20"/>
<ellipse cx="321.5" cy="337" rx="11.9" ry="10.6" fill="none" stroke="#6c6c6c" stroke-width="4.2" stroke-dasharray="14.9 2.8" transform="rotate(45 321.5 337)"/>
<ellipse cx="321.5" cy="337" rx="9.8" ry="8.7" fill="#363636" stroke="#262626" stroke-width="1"/>
<ellipse cx="321.5" cy="337" rx="6.5" ry="5.8" fill="none" stroke="#2a2a2a" stroke-width="0.8"/>
<ellipse cx="321.5" cy="337" rx="3.4" ry="3.0" fill="none" stroke="#2a2a2a" stroke-width="0.8"/>
<path d="M313.8 330.1L329.2 343.9M329.2 330.1L313.8 343.9" stroke="#4a4a4a" stroke-width="0.80"/>
<path d="M315.3 329.8L329.6 342.5M327.7 329.8L313.4 342.5" stroke="#424242" stroke-width="0.62"/>
<ellipse cx="321.5" cy="337" rx="1.2" ry="1.1" fill="#888"/>
<line x1="267.8" y1="276" x2="267.8" y2="367" stroke="#262626" stroke-width="1.1"/>
<line x1="277" y1="276" x2="277" y2="367" stroke="#262626" stroke-width="1.1"/>
<line x1="286.2" y1="276" x2="286.2" y2="367" stroke="#262626" stroke-width="1.1"/>
<line x1="300.3" y1="276" x2="300.3" y2="367" stroke="#262626" stroke-width="1.1"/>
<line x1="303" y1="276" x2="303" y2="367" stroke="#262626" stroke-width="1.1"/>
<line x1="307.8" y1="276" x2="307.8" y2="367" stroke="#262626" stroke-width="1.1"/>
<line x1="321.5" y1="276" x2="321.5" y2="367" stroke="#262626" stroke-width="1.1"/>
<line x1="327.8" y1="276" x2="327.8" y2="367" stroke="#262626" stroke-width="1.1"/>
<line x1="335.3" y1="276" x2="335.3" y2="367" stroke="#262626" stroke-width="1.1"/>
<line x1="256" y1="317.5" x2="348" y2="317.5" stroke="#262626" stroke-width="1.6"/>
<line x1="256" y1="294" x2="348" y2="294" stroke="#262626" stroke-width="0.9"/>
<line x1="256" y1="360" x2="348" y2="360" stroke="#262626" stroke-width="1"/>
</g>
<rect x="255.25" y="274.75" width="94" height="93.5" fill="none" stroke="#a8d5ef" stroke-width="2.5"/>
<circle cx="269.5" cy="317.5" r="11.9" fill="none" stroke="#b6e95c" stroke-width="3.8"/>
<circle cx="333.5" cy="317.5" r="11.9" fill="none" stroke="#b6e95c" stroke-width="3.8"/>
<rect x="261.5" y="335.8" width="81" height="21.5" rx="4.5" fill="#ade45e" stroke="#c2ee7c" stroke-width="0.8"/>
<text x="302" y="353.5" text-anchor="middle" font-size="18" font-weight="bold" fill="#111" stroke="#111" stroke-width="0.35">模块化</text>
<defs><clipPath id="c3"><rect x="407.5" y="372.5" width="92" height="91"/></clipPath></defs>
<rect x="407.5" y="372.5" width="92" height="91" fill="#fff"/>
<g clip-path="url(#c3)">
<rect x="415" y="360" width="75.5" height="91" fill="#474747"/>
<ellipse cx="438.3" cy="380.5" rx="12" ry="10" fill="#333" stroke="#1a1a1a" stroke-width="1.20"/>
<ellipse cx="438.3" cy="380.5" rx="9.2" ry="7.7" fill="none" stroke="#2b6860" stroke-width="3.2" stroke-dasharray="11.2 2.1" transform="rotate(45 438.3 380.5)"/>
<ellipse cx="438.3" cy="380.5" rx="7.6" ry="6.3" fill="#363636" stroke="#262626" stroke-width="1"/>
<ellipse cx="438.3" cy="380.5" rx="5.0" ry="4.2" fill="none" stroke="#2a2a2a" stroke-width="0.8"/>
<ellipse cx="438.3" cy="380.5" rx="2.6" ry="2.2" fill="none" stroke="#2a2a2a" stroke-width="0.8"/>
<path d="M432.3 375.5L444.3 385.5M444.3 375.5L432.3 385.5" stroke="#4a4a4a" stroke-width="0.80"/>
<path d="M433.5 375.2L444.6 384.5M443.1 375.2L432.0 384.5" stroke="#424242" stroke-width="0.60"/>
<ellipse cx="438.3" cy="380.5" rx="1.0" ry="0.8" fill="#2b6860"/>
<ellipse cx="466.5" cy="380.5" rx="12" ry="10" fill="#333" stroke="#1a1a1a" stroke-width="1.20"/>
<ellipse cx="466.5" cy="380.5" rx="9.2" ry="7.7" fill="none" stroke="#6c6c6c" stroke-width="3.2" stroke-dasharray="11.2 2.1" transform="rotate(45 466.5 380.5)"/>
<ellipse cx="466.5" cy="380.5" rx="7.6" ry="6.3" fill="#363636" stroke="#262626" stroke-width="1"/>
<ellipse cx="466.5" cy="380.5" rx="5.0" ry="4.2" fill="none" stroke="#2a2a2a" stroke-width="0.8"/>
<ellipse cx="466.5" cy="380.5" rx="2.6" ry="2.2" fill="none" stroke="#2a2a2a" stroke-width="0.8"/>
<path d="M460.5 375.5L472.5 385.5M472.5 375.5L460.5 385.5" stroke="#4a4a4a" stroke-width="0.80"/>
<path d="M461.7 375.2L472.8 384.5M471.3 375.2L460.2 384.5" stroke="#424242" stroke-width="0.60"/>
<ellipse cx="466.5" cy="380.5" rx="1.0" ry="0.8" fill="#888"/>
<ellipse cx="438.3" cy="410.5" rx="12" ry="10" fill="#333" stroke="#1a1a1a" stroke-width="1.20"/>
<ellipse cx="438.3" cy="410.5" rx="9.2" ry="7.7" fill="none" stroke="#2b6860" stroke-width="3.2" stroke-dasharray="11.2 2.1" transform="rotate(45 438.3 410.5)"/>
<ellipse cx="438.3" cy="410.5" rx="7.6" ry="6.3" fill="#363636" stroke="#262626" stroke-width="1"/>
<ellipse cx="438.3" cy="410.5" rx="5.0" ry="4.2" fill="none" stroke="#2a2a2a" stroke-width="0.8"/>
<ellipse cx="438.3" cy="410.5" rx="2.6" ry="2.2" fill="none" stroke="#2a2a2a" stroke-width="0.8"/>
<path d="M432.3 405.5L444.3 415.5M444.3 405.5L432.3 415.5" stroke="#4a4a4a" stroke-width="0.80"/>
<path d="M433.5 405.2L444.6 414.5M443.1 405.2L432.0 414.5" stroke="#424242" stroke-width="0.60"/>
<ellipse cx="438.3" cy="410.5" rx="1.0" ry="0.8" fill="#2b6860"/>
<ellipse cx="466.5" cy="410.5" rx="12" ry="10" fill="#333" stroke="#1a1a1a" stroke-width="1.20"/>
<ellipse cx="466.5" cy="410.5" rx="9.2" ry="7.7" fill="none" stroke="#6c6c6c" stroke-width="3.2" stroke-dasharray="11.2 2.1" transform="rotate(45 466.5 410.5)"/>
<ellipse cx="466.5" cy="410.5" rx="7.6" ry="6.3" fill="#363636" stroke="#262626" stroke-width="1"/>
<ellipse cx="466.5" cy="410.5" rx="5.0" ry="4.2" fill="none" stroke="#2a2a2a" stroke-width="0.8"/>
<ellipse cx="466.5" cy="410.5" rx="2.6" ry="2.2" fill="none" stroke="#2a2a2a" stroke-width="0.8"/>
<path d="M460.5 405.5L472.5 415.5M472.5 405.5L460.5 415.5" stroke="#4a4a4a" stroke-width="0.80"/>
<path d="M461.7 405.2L472.8 414.5M471.3 405.2L460.2 414.5" stroke="#424242" stroke-width="0.60"/>
<ellipse cx="466.5" cy="410.5" rx="1.0" ry="0.8" fill="#888"/>
<line x1="425" y1="360" x2="425" y2="451" stroke="#262626" stroke-width="1.1"/>
<line x1="438.3" y1="360" x2="438.3" y2="451" stroke="#262626" stroke-width="1.1"/>
<line x1="450" y1="360" x2="450" y2="451" stroke="#262626" stroke-width="1.1"/>
<line x1="453" y1="360" x2="453" y2="451" stroke="#262626" stroke-width="1.1"/>
<line x1="466.5" y1="360" x2="466.5" y2="451" stroke="#262626" stroke-width="1.1"/>
<line x1="480" y1="360" x2="480" y2="451" stroke="#262626" stroke-width="1.1"/>
<line x1="415" y1="394" x2="490" y2="394" stroke="#2a2a2a" stroke-width="1"/>
<line x1="415" y1="397" x2="490" y2="397" stroke="#2a2a2a" stroke-width="1"/>
<line x1="415" y1="426" x2="490" y2="426" stroke="#2a2a2a" stroke-width="1"/>
<rect x="415" y="446" width="75.5" height="5" fill="#555" stroke="#2a2a2a" stroke-width="0.7"/>
<rect x="417" y="451" width="7" height="4" rx="1.5" fill="#222"/><rect x="474" y="451" width="6" height="4" rx="1.5" fill="#222"/><rect x="486" y="451" width="3" height="4" fill="#222"/>
</g>
<rect x="406.25" y="371.25" width="93.5" height="92.5" fill="none" stroke="#a8d5ef" stroke-width="2.5"/>
<text x="436.7" y="419" text-anchor="middle" font-size="25" font-weight="bold" fill="#b6ea4c" stroke="#b6ea4c" stroke-width="1.3" transform="translate(436.7 0) scale(1.08 1) translate(-436.7 0)">X</text>
<text x="465.5" y="419" text-anchor="middle" font-size="25" font-weight="bold" fill="#b6ea4c" stroke="#b6ea4c" stroke-width="1.3" transform="translate(465.5 0) scale(1.08 1) translate(-465.5 0)">X</text>
<rect x="428" y="433" width="62.5" height="20" rx="4.5" fill="#ade45e" stroke="#c2ee7c" stroke-width="0.8"/>
<text x="462" y="451" text-anchor="middle" font-size="18.5" font-weight="bold" letter-spacing="2.2" fill="#111" stroke="#111" stroke-width="0.4">N+2</text>
</svg>
</body></html>
